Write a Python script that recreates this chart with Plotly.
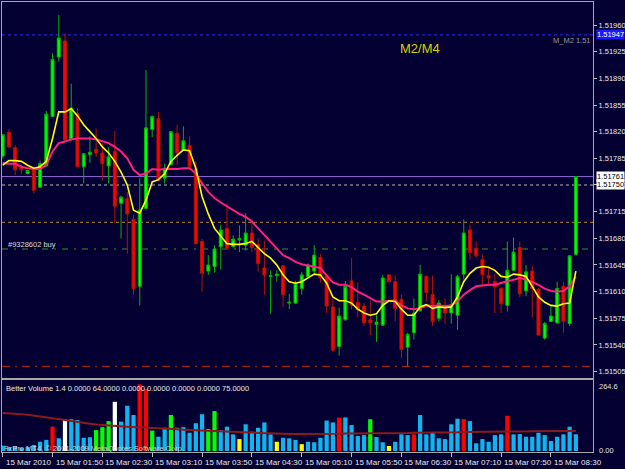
import plotly.graph_objects as go

# ---------------- data ----------------
open_ = [1.51788,1.51819,1.51799,1.51774,1.51765,1.51772,1.51747,1.51775,1.51840,1.51918,
1.51939,1.51811,1.51844,1.51774,1.51790,1.51797,1.51792,1.51775,1.51794,1.51726,
1.51732,1.51705,1.51617,1.51719,1.51823,1.51837,1.51759,1.51777,1.51818,1.51796,
1.51802,1.51771,1.51676,1.51637,1.51643,1.51669,1.51693,1.51669,1.51678,1.51671,
1.51687,1.51672,1.51641,1.51630,1.51631,1.51644,1.51595,1.51595,1.51614,1.51630,
1.51637,1.51655,1.51630,1.51590,1.51538,1.51573,1.51624,1.51596,1.51591,1.51573,
1.51567,1.51566,1.51632,1.51623,1.51600,1.51537,1.51556,1.51585,1.51630,1.51606,
1.51575,1.51592,1.51582,1.51579,1.51633,1.51691,1.51667,1.51652,1.51631,1.51623,
1.51614,1.51592,1.51638,1.51668,1.51611,1.51637,1.51613,1.51549,1.51571,1.51569,
1.51617,1.51568,1.51659]
high = [1.51817,1.51823,1.51802,1.51776,1.51770,1.51774,1.51782,1.51847,1.51923,1.51973,
1.51949,1.51883,1.51851,1.51792,1.51814,1.51824,1.51805,1.51800,1.51821,1.51736,
1.51741,1.51711,1.51759,1.51901,1.51841,1.51846,1.51778,1.51821,1.51829,1.51827,
1.51814,1.51781,1.51679,1.51658,1.51671,1.51698,1.51726,1.51684,1.51697,1.51713,
1.51705,1.51680,1.51677,1.51638,1.51638,1.51645,1.51607,1.51624,1.51636,1.51647,
1.51671,1.51659,1.51632,1.51601,1.51589,1.51624,1.51654,1.51622,1.51595,1.51598,
1.51579,1.51632,1.51633,1.51631,1.51606,1.51556,1.51601,1.51645,1.51631,1.51631,
1.51599,1.51601,1.51633,1.51632,1.51705,1.51698,1.51676,1.51659,1.51643,1.51634,
1.51616,1.51676,1.51681,1.51676,1.51645,1.51644,1.51615,1.51570,1.51592,1.51623,
1.51623,1.51658,1.51761]
low = [1.51785,1.51799,1.51763,1.51764,1.51764,1.51739,1.51746,1.51774,1.51839,1.51912,
1.51808,1.51808,1.51773,1.51752,1.51779,1.51787,1.51756,1.51752,1.51700,1.51680,
1.51660,1.51606,1.51592,1.51718,1.51813,1.51755,1.51752,1.51776,1.51776,1.51795,
1.51773,1.51672,1.51610,1.51632,1.51635,1.51639,1.51666,1.51668,1.51662,1.51664,
1.51662,1.51636,1.51606,1.51581,1.51623,1.51590,1.51587,1.51594,1.51606,1.51629,
1.51634,1.51622,1.51582,1.51531,1.51526,1.51572,1.51587,1.51576,1.51565,1.51553,
1.51544,1.51565,1.51622,1.51571,1.51523,1.51512,1.51547,1.51584,1.51597,1.51565,
1.51571,1.51568,1.51568,1.51560,1.51626,1.51652,1.51655,1.51617,1.51617,1.51582,
1.51582,1.51584,1.51637,1.51603,1.51604,1.51576,1.51552,1.51547,1.51570,1.51568,
1.51556,1.51565,1.51658]
close = [1.51816,1.51800,1.51770,1.51770,1.51769,1.51743,1.51778,1.51843,1.51915,1.51943,
1.51809,1.51851,1.51774,1.51791,1.51793,1.51792,1.51778,1.51787,1.51722,1.51734,
1.51712,1.51614,1.51717,1.51825,1.51840,1.51756,1.51772,1.51820,1.51792,1.51808,
1.51774,1.51673,1.51634,1.51645,1.51666,1.51691,1.51667,1.51679,1.51680,1.51687,
1.51668,1.51647,1.51632,1.51631,1.51633,1.51606,1.51596,1.51621,1.51632,1.51645,
1.51658,1.51628,1.51591,1.51533,1.51578,1.51617,1.51592,1.51586,1.51569,1.51569,
1.51570,1.51628,1.51623,1.51588,1.51534,1.51554,1.51582,1.51633,1.51609,1.51571,
1.51595,1.51582,1.51592,1.51630,1.51687,1.51661,1.51657,1.51632,1.51628,1.51616,
1.51594,1.51638,1.51662,1.51607,1.51636,1.51614,1.51553,1.51568,1.51578,1.51614,
1.51571,1.51657,1.51761]
ma_fast = [1.51776,1.51782,1.51782,1.51781,1.51776,1.51772,1.51774,1.51781,1.51811,1.51846,
1.51846,1.51850,1.51841,1.51829,1.51820,1.51811,1.51800,1.51792,1.51781,1.51767,
1.51750,1.51717,1.51713,1.51730,1.51754,1.51757,1.51765,1.51781,1.51789,1.51796,
1.51795,1.51772,1.51735,1.51712,1.51693,1.51683,1.51673,1.51672,1.51672,1.51673,
1.51676,1.51668,1.51660,1.51654,1.51645,1.51632,1.51623,1.51621,1.51623,1.51628,
1.51633,1.51632,1.51621,1.51603,1.51598,1.51598,1.51595,1.51587,1.51582,1.51579,
1.51581,1.51592,1.51598,1.51597,1.51587,1.51579,1.51579,1.51590,1.51593,1.51588,
1.51590,1.51589,1.51590,1.51603,1.51623,1.51634,1.51641,1.51643,1.51642,1.51638,
1.51630,1.51629,1.51633,1.51632,1.51630,1.51617,1.51603,1.51596,1.51592,1.51591,
1.51594,1.51595,1.51637]
ma_slow = [1.51779,1.51778,1.51778,1.51774,1.51772,1.51771,1.51771,1.51776,1.51794,1.51805,
1.51807,1.51810,1.51811,1.51811,1.51811,1.51810,1.51807,1.51805,1.51800,1.51794,
1.51785,1.51770,1.51763,1.51765,1.51771,1.51770,1.51771,1.51771,1.51771,1.51772,
1.51772,1.51765,1.51752,1.51741,1.51733,1.51727,1.51722,1.51716,1.51712,1.51708,
1.51702,1.51693,1.51684,1.51675,1.51666,1.51658,1.51654,1.51649,1.51646,1.51644,
1.51643,1.51641,1.51631,1.51622,1.51619,1.51619,1.51616,1.51610,1.51606,1.51601,
1.51597,1.51597,1.51598,1.51598,1.51592,1.51588,1.51587,1.51588,1.51592,1.51591,
1.51592,1.51591,1.51592,1.51597,1.51606,1.51612,1.51617,1.51618,1.51619,1.51619,
1.51621,1.51623,1.51625,1.51628,1.51626,1.51623,1.51619,1.51614,1.51611,1.51610,
1.51611,1.51617,1.51630]
volume = [20,15,18,12,15,23,35,42,92,48,
120,120,117,50,52,79,90,113,186,111,
171,136,252,234,77,54,88,136,88,90,
69,105,139,83,151,79,92,63,45,101,
73,88,108,63,35,50,48,42,26,35,
33,50,115,108,126,127,98,57,60,120,
53,33,19,35,63,60,63,136,63,71,
48,45,101,122,121,113,29,45,35,60,
63,133,63,64,54,54,69,60,38,54,
63,92,63]
vol_class = list("ccccccccrc" "wccccgggwc" "ccrrgccgcc" "cccggcccyc" "ccccycccyc"
                 "ccccrccccg" "ccycccrccc" "ccccrccccc" "crcccccccc" "ccc")
vol_ma = [144,143,141,139,137,134,131,127,123,120,
117,113,109,106,103,100,98,96,94,93,
92,91,90,89,88,87,86,84,82,80,
79,78,76,75,74,73,72,71,70,69,
68,67,66,66,65,65,64,64,64,63,
63,64,64,65,65,66,66,66,67,67,
67,67,67,68,68,68,69,69,70,70,
70,71,71,71,72,72,72,73,73,73,
73,74,74,74,74,75,75,75,75,76,
76,76,76]
price_ticks = [1.51960,1.51925,1.51890,1.51855,1.51820,1.51785,1.51750,1.51715,
               1.51680,1.51645,1.51610,1.51575,1.51540,1.51505]
time_tick_idx = [0,8,16,24,32,40,48,56,64,72,80,88]
time_labels = ["15 Mar 2010","15 Mar 01:50","15 Mar 02:30","15 Mar 03:10","15 Mar 03:50",
               "15 Mar 04:30","15 Mar 05:10","15 Mar 05:50","15 Mar 06:30","15 Mar 07:10",
               "15 Mar 07:50","15 Mar 08:30"]
level_blue = 1.51947   # M_M2 level
level_bid = 1.51761
level_ask = 1.51750
level_tp = 1.51701
level_order = 1.51666
level_sl = 1.51512
vol_max_label = "264.6"

n = len(close)
idx = list(range(n))
for arr in (open_, high, low, ma_fast, ma_slow, volume, vol_class, vol_ma):
    assert len(arr) == n, len(arr)

# ---------------- styling ----------------
BG = "#040032"
W, H = 625, 469
FONT = "Liberation Sans"
def px_x(p): return p / W
def px_y(p): return 1 - p / H

xdom = [px_x(2), px_x(593)]
ydom_main = [px_y(377.5), px_y(2)]
ydom_vol = [px_y(452), px_y(380)]

cmap = {"c": "#12b4f0", "r": "#ff0000", "g": "#00ff00", "w": "#ffffff", "y": "#ffff00"}

fig = go.Figure()
fig.add_trace(go.Candlestick(
    x=idx, open=open_, high=high, low=low, close=close,
    increasing=dict(line=dict(color="#00b400", width=1), fillcolor="#00ff00"),
    decreasing=dict(line=dict(color="#b41400", width=1), fillcolor="#ff0000"),
    whiskerwidth=0, hoverinfo="skip", xaxis="x", yaxis="y"))
fig.add_trace(go.Scatter(x=idx, y=ma_slow, mode="lines",
                         line=dict(color="#ff1f7f", width=2), hoverinfo="skip",
                         xaxis="x", yaxis="y"))
fig.add_trace(go.Scatter(x=idx, y=ma_fast, mode="lines",
                         line=dict(color="#ffff00", width=1.6), hoverinfo="skip",
                         xaxis="x", yaxis="y"))
fig.add_trace(go.Bar(x=idx, y=volume, width=0.68,
                     marker=dict(color=[cmap[c] for c in vol_class], line=dict(width=0)),
                     hoverinfo="skip", xaxis="x2", yaxis="y2"))
fig.add_trace(go.Scatter(x=idx, y=vol_ma, mode="lines",
                         line=dict(color="#8c1a1a", width=2), hoverinfo="skip",
                         xaxis="x2", yaxis="y2"))

xr = [-0.11, 94.75]
yr = [1.514973, 1.519902]
FRAME = "#a8a8a8"

shapes = []
def hline(val, color, dash, width=1):
    shapes.append(dict(type="line", xref="paper", yref="y", x0=xdom[0], x1=xdom[1],
                       y0=val, y1=val, line=dict(color=color, width=width, dash=dash),
                       layer="below"))
hline(level_blue, "#2a2aff", "dot")
hline(level_bid, "#9370db", "solid")
hline(level_ask, "#b8b8b8", "3px,3px")
hline(level_tp, "#b8862a", "3px,3px")
hline(level_order, "#3c8c28", "6px,6px,2px,6px")
hline(level_sl, "#c82800", "8px,5px,2px,5px")

ann = []
def text(x, y, s, size=7.5, color="#e0e0e0", xanchor="left", **kw):
    ann.append(dict(x=x, y=y, xref="paper", yref="paper", text=s, showarrow=False,
                    xanchor=xanchor, yanchor="middle",
                    font=dict(family=FONT, size=size, color=color), **kw))

text(px_x(398), px_y(49), "M2/M4", size=13, color="#d2d200")
text(px_x(593), px_y(41), "M_M2 1.51", size=7.5, color="#9a9a9a", xanchor="right")
text(px_x(6), px_y(244), "#9328602 buy", size=7.5, color="#d8d8d8")
text(px_x(4), px_y(388),
     "Better Volume 1.4 0.0000 64.0000 0.0000 0.0000 0.0000 0.0000 75.0000",
     size=7.5, color="#e8e8e8")
text(px_x(2), px_y(448), "FxPro MT4, © 2001-2009 MetaQuotes Software Corp.",
     size=7.5, color="#d0d0d0")
text(px_x(597), px_y(386), vol_max_label, size=7.5, color="#e0e0e0")
text(px_x(597), px_y(450), "0.00", size=7.5, color="#e0e0e0")

for val, bg, fg in [(level_blue, "#1a1aff", "#ffffff"),
                    (level_bid, "#ffffff", "#000000"),
                    (level_ask, "#ffffff", "#000000")]:
    ann.append(dict(x=px_x(596), y=val, xref="paper", yref="y", text=f"{val:.5f}",
                    showarrow=False, xanchor="left", yanchor="middle", bgcolor=bg,
                    borderpad=0, font=dict(family=FONT, size=7.5, color=fg)))

for i, lab in zip(time_tick_idx, time_labels):
    ann.append(dict(x=i, y=px_y(462), xref="x2", yref="paper", text=lab, showarrow=False,
                    xanchor="left", yanchor="middle", xshift=1,
                    font=dict(family=FONT, size=8, color="#e8e8e8")))

fig.update_layout(
    width=W, height=H, margin=dict(l=0, r=0, t=0, b=0),
    paper_bgcolor=BG, plot_bgcolor=BG, showlegend=False, boxgap=0.32,
    font=dict(family=FONT, size=8, color="#e0e0e0"),
    xaxis=dict(domain=xdom, range=xr, anchor="y", showgrid=False, zeroline=False,
               showticklabels=False, ticks="", showline=True, mirror=True,
               linecolor=FRAME, linewidth=1, rangeslider=dict(visible=False), fixedrange=True),
    yaxis=dict(domain=ydom_main, range=yr, anchor="x", side="right", showgrid=False,
               zeroline=False, tickvals=price_ticks,
               ticktext=[f"{v:.5f}" for v in price_ticks], ticks="outside", ticklen=3,
               tickcolor="#c0c0c0", tickfont=dict(family=FONT, size=7.5, color="#e8e8e8"),
               showline=True, mirror=True, linecolor=FRAME, linewidth=1),
    xaxis2=dict(domain=xdom, range=xr, anchor="y2", showgrid=False, zeroline=False,
                tickvals=time_tick_idx, showticklabels=False, ticks="outside", ticklen=4,
                tickcolor="#c0c0c0", showline=True, mirror=True, linecolor=FRAME,
                linewidth=1),
    yaxis2=dict(domain=ydom_vol, range=[-3.8, 268.4], anchor="x2", side="right",
                showgrid=False, zeroline=False, showticklabels=False, ticks="",
                showline=True, mirror=True, linecolor=FRAME, linewidth=1),
    shapes=shapes, annotations=ann,
)

fig.write_html("out.html")
